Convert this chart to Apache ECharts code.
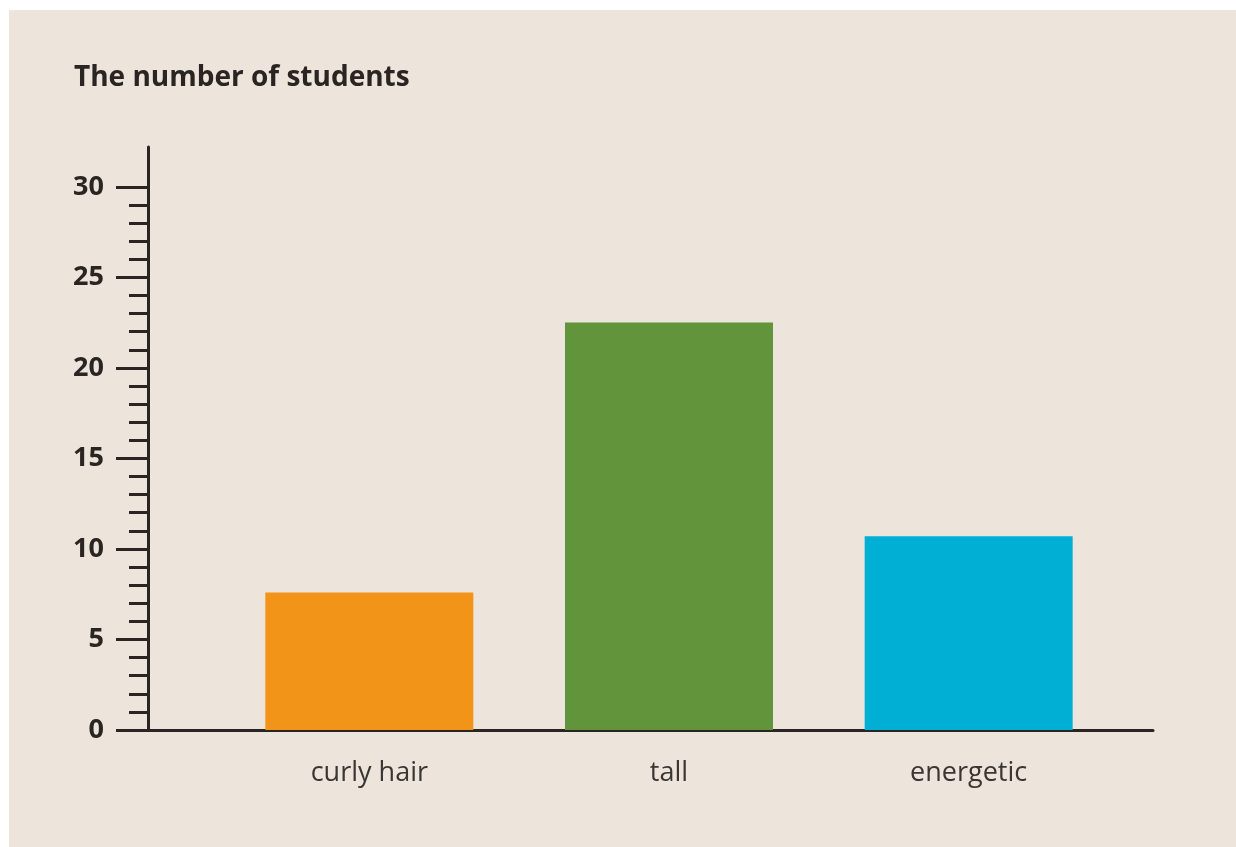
<!DOCTYPE html>
<html>
<head>
<meta charset="utf-8">
<script src="https://cdn.jsdelivr.net/npm/echarts@6/dist/echarts.min.js"></script>
<style>
  html, body { margin: 0; padding: 0; background: #ffffff; }
  #chart { position: absolute; left: 9px; top: 10px; width: 1227px; height: 837px; }
</style>
</head>
<body>
<div id="chart"></div>
<script>
const titleText = 'The number of students';
const categories = ['curly hair', 'tall', 'energetic'];
const values = [7.6, 22.5, 10.7];
const barColors = ['#f29418', '#62943c', '#00afd3'];
const majorTicks = [0, 5, 10, 15, 20, 25, 30];
const minorTicks = [1, 2, 3, 4, 6, 7, 8, 9, 11, 12, 13, 14, 16, 17, 18, 19, 21, 22, 23, 24, 26, 27, 28, 29];
const yMin = 0;
const yMax = 32.2;

const ink = '#2a2522';
const fontFam = '"Open Sans", Lato, sans-serif';

const chart = echarts.init(document.getElementById('chart'));
chart.setOption({
  backgroundColor: '#ede5db',
  animation: false,
  title: {
    text: titleText,
    left: 60,
    top: 49,
    textStyle: { fontFamily: fontFam, fontWeight: 'bold', fontSize: 28, color: ink }
  },
  grid: [
    { left: 210.5, right: 117.5, top: 137, bottom: 117 },
    { left: 139, right: 83, top: 137, bottom: 117 }
  ],
  xAxis: [
    {
      gridIndex: 0,
      type: 'category',
      data: categories,
      axisLine: { show: false },
      axisTick: { show: false },
      axisLabel: {
        margin: 30,
        fontFamily: fontFam,
        fontSize: 27,
        color: '#3a3634'
      }
    },
    {
      gridIndex: 1,
      type: 'value',
      min: 0,
      max: 1,
      axisLine: { show: true, lineStyle: { color: ink, width: 3 } },
      axisTick: { show: false },
      axisLabel: { show: false },
      splitLine: { show: false }
    }
  ],
  yAxis: [
    {
      gridIndex: 0,
      type: 'value',
      min: yMin,
      max: yMax,
      show: false
    },
    {
      gridIndex: 1,
      type: 'value',
      min: yMin,
      max: yMax,
      axisLine: { show: true, lineStyle: { color: ink, width: 3 } },
      axisTick: {
        show: true,
        customValues: majorTicks,
        length: 32,
        lineStyle: { color: ink, width: 3 }
      },
      axisLabel: {
        customValues: majorTicks,
        margin: 44,
        fontFamily: fontFam,
        fontWeight: 'bold',
        fontSize: 27,
        color: ink
      },
      splitLine: { show: false }
    },
    {
      gridIndex: 1,
      type: 'value',
      min: yMin,
      max: yMax,
      position: 'left',
      axisLine: { show: false },
      axisTick: {
        show: true,
        customValues: minorTicks,
        length: 19,
        lineStyle: { color: ink, width: 3 }
      },
      axisLabel: { show: false },
      splitLine: { show: false }
    }
  ],
  series: [
    {
      type: 'bar',
      xAxisIndex: 0,
      yAxisIndex: 0,
      barWidth: 208,
      data: values.map((v, i) => ({ value: v, itemStyle: { color: barColors[i] } }))
    }
  ]
});
</script>
</body>
</html>
